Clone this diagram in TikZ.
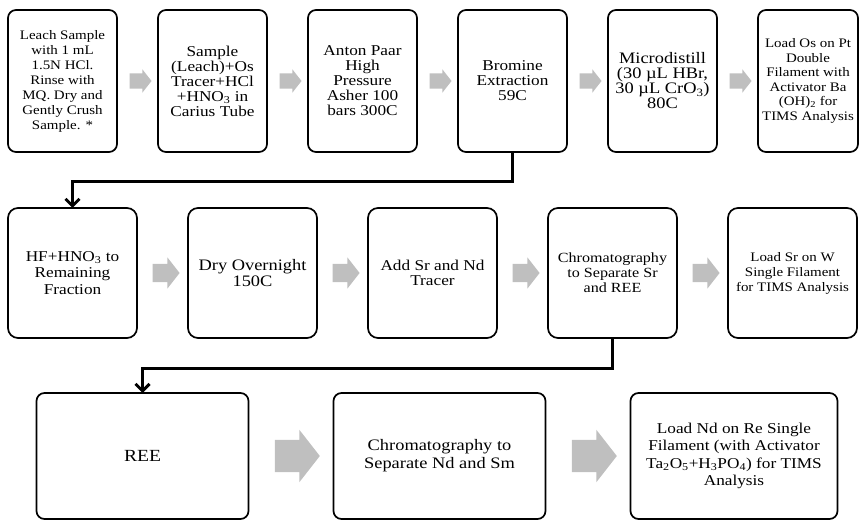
\documentclass[tikz,border=0pt]{standalone}
\usepackage{fontspec}
\setmainfont{Liberation Serif}[FakeStretch=1.15]
\usepackage{tikz}
\usetikzlibrary{positioning, shapes.arrows, arrows.meta}

\newcommand{\boxfont}[2]{\fontsize{#1}{#2}\selectfont}

\tikzset{
  stepbox/.style={draw, line width=1.7pt, rounded corners=8pt, align=center, inner sep=2pt, outer sep=0pt},
  toprow/.style={stepbox, minimum width=109pt, minimum height=142pt},
  midrow/.style={stepbox, minimum width=129pt, minimum height=130pt, rounded corners=10pt},
  lowrow/.style={stepbox, minimum width=212pt, minimum height=126pt},
  fatarrow/.style={single arrow, fill=gray!50, draw=none, inner xsep=0pt, outer sep=0pt, single arrow tip angle=104},
  arrowA/.style={fatarrow, minimum height=22pt, inner ysep=7.5pt, single arrow head extend=4pt},
  arrowB/.style={fatarrow, minimum height=27pt, inner ysep=9pt, single arrow head extend=6.5pt},
  arrowC/.style={fatarrow, minimum height=45pt, inner ysep=16pt, single arrow head extend=10pt},
  link/.style={line width=3pt, -{Straight Barb[length=7pt, width=14pt]}}
}

\begin{document}
\begin{tikzpicture}[x=1pt, y=-1pt]
    \useasboundingbox (0,0) rectangle (859,521);

    % first row: osmium
    \begin{scope}[node distance=41pt]
    \node[toprow, font=\boxfont{13}{15}] (S1) at (62.5,81)
        {Leach Sample\\with 1 mL\\1.5N HCl.\\Rinse with\\MQ. Dry and\\Gently Crush\\Sample. *};
    \node[toprow, font=\boxfont{15}{15}] (S2) [right=of S1]
        {Sample\\(Leach)+Os\\Tracer+HCl\\+HNO\textsubscript{3} in\\Carius Tube};
    \node[toprow, font=\boxfont{15}{15}] (S3) [right=of S2]
        {Anton Paar\\High\\Pressure\\Asher 100\\bars 300C};
    \node[toprow, font=\boxfont{15}{15}] (S4) [right=of S3]
        {Bromine\\Extraction\\59C};
    \node[toprow, font=\boxfont{16}{15}] (S5) [right=of S4]
        {Microdistill\\(30 µL HBr,\\30 µL CrO\textsubscript{3})\\80C};
    \node[toprow, minimum width=100pt, font=\boxfont{13}{14.5}] (S6) [right=of S5]
        {Load Os on Pt\\Double\\Filament with\\Activator Ba\\(OH)\textsubscript{2} for\\TIMS Analysis};
    \end{scope}

    % second row: strontium
    \begin{scope}[node distance=51pt]
    \node[midrow, font=\boxfont{15}{16.5}] (S7) at (72.5,273)
        {HF+HNO\textsubscript{3} to\\Remaining\\Fraction};
    \node[midrow, font=\boxfont{16}{15.5}] (S8) [right=of S7]
        {Dry Overnight\\150C};
    \node[midrow, font=\boxfont{15}{15}] (S9) [right=of S8]
        {Add Sr and Nd\\Tracer};
    \node[midrow, font=\boxfont{14}{15}] (S10) [right=of S9]
        {Chromatography\\to Separate Sr\\and REE};
    \node[midrow, font=\boxfont{13}{15}] (S11) [right=of S10]
        {Load Sr on W\\Single Filament\\for TIMS Analysis};
    \end{scope}

    % third row: neodymium
    \begin{scope}[node distance=85pt]
    \node[lowrow, font=\boxfont{17}{18}] (S12) at (142.5,456) {REE};
    \node[lowrow, font=\boxfont{16}{18}] (S13) [right=of S12]
        {Chromatography to\\Separate Nd and Sm};
    \node[lowrow, minimum width=207pt, font=\boxfont{15}{17.5}] (S14) [right=of S13]
        {Load Nd on Re Single\\Filament (with Activator\\Ta\textsubscript{2}O\textsubscript{5}+H\textsubscript{3}PO\textsubscript{4}) for TIMS\\Analysis};
    \end{scope}

    % gray step arrows
    \path (S1.east) -- (S2.west) node[midway, arrowA] (A1) {};
    \path (S2.east) -- (S3.west) node[midway, arrowA] (A2) {};
    \path (S3.east) -- (S4.west) node[midway, arrowA] (A3) {};
    \path (S4.east) -- (S5.west) node[midway, arrowA] (A4) {};
    \path (S5.east) -- (S6.west) node[midway, arrowA] (A5) {};
    \path (S7.east) -- (S8.west) node[midway, arrowB] (A6) {};
    \path (S8.east) -- (S9.west) node[midway, arrowB] (A7) {};
    \path (S9.east) -- (S10.west) node[midway, arrowB] (A8) {};
    \path (S10.east) -- (S11.west) node[midway, arrowB] (A9) {};
    \path (S12.east) -- (S13.west) node[midway, arrowC] (A10) {};
    \path (S13.east) -- (S14.west) node[midway, arrowC] (A11) {};

    % row to row
    \draw[link] (S4.south) -- ++(0,30) -| (S7.north);
    \draw[link] (S10.south) -- ++(0,30) -| (S12.north);
\end{tikzpicture}
\end{document}
